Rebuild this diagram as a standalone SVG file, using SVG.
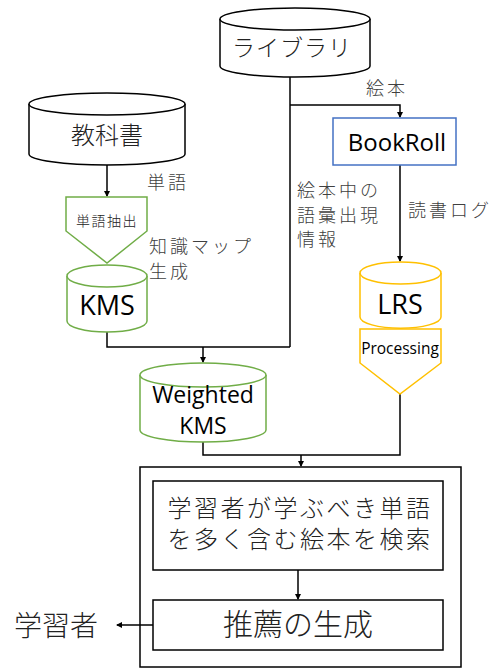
<svg xmlns="http://www.w3.org/2000/svg" width="500" height="668" viewBox="0 0 500 668">
<style>
.ln{fill:none;stroke:#000;stroke-width:1.5}
.cyl{fill:#fff;stroke:#000;stroke-width:1.5}
.g{fill:#fff;stroke:#70AD47;stroke-width:1.5}
.y{fill:#fff;stroke:#FFC000;stroke-width:1.5}
.b{fill:#fff;stroke:#4472C4;stroke-width:1.5}
.jp{font-family:"Noto Sans CJK JP","Noto Sans",sans-serif;fill:#222;font-weight:300}
.lb{font-family:"Noto Sans CJK JP","Noto Sans",sans-serif;fill:#404040;font-size:18px;font-weight:300;letter-spacing:3px}
.en{font-family:"Open Sans","Noto Sans",sans-serif;fill:#000}
</style>
<defs>
<marker id="ar" markerWidth="6" markerHeight="6" refX="5" refY="3" orient="auto" markerUnits="userSpaceOnUse">
<path d="M0,0 L6,3 L0,6 z" fill="#000"/>
</marker>
</defs>
<g id="connectors">
<path class="ln" d="M290,77 V347"/>
<path class="ln" d="M290,105 H400 V117" marker-end="url(#ar)"/>
<path class="ln" d="M400,165 V261" marker-end="url(#ar)"/>
<path class="ln" d="M107,165 V196" marker-end="url(#ar)"/>
<path class="ln" d="M107,332 V347 H290"/>
<path class="ln" d="M203,347 V362" marker-end="url(#ar)"/>
<path class="ln" d="M203,442 V455 H400 V394"/>
<path class="ln" d="M301,455 V466" marker-end="url(#ar)"/>
<path class="ln" d="M298,570 V599" marker-end="url(#ar)"/>
<path class="ln" d="M153,625 H117" marker-end="url(#ar)"/>
</g>
<g id="library">
<path class="cyl" d="M220,19 V66 A75,11 0 0 0 370,66 V19"/>
<ellipse class="cyl" cx="295" cy="19" rx="75" ry="11"/>
<text class="jp" x="292" y="56" font-size="23" letter-spacing="1" text-anchor="middle">ライブラリ</text>
</g>
<g id="textbook">
<path class="cyl" d="M29,104 V154 A78,11 0 0 0 185,154 V104"/>
<ellipse class="cyl" cx="107" cy="104" rx="78" ry="11"/>
<text class="jp" x="107" y="144" font-size="24" text-anchor="middle">教科書</text>
</g>
<g id="extract">
<path class="g" d="M66,197 H147 V231 L107,263 L66,231 Z"/>
<text class="jp" x="107" y="226" font-size="14" letter-spacing="1.5" text-anchor="middle" fill="#404040">単語抽出</text>
</g>
<g id="kms">
<path class="g" d="M67,276 V321 A40,11 0 0 0 147,321 V276"/>
<ellipse class="g" cx="107" cy="276" rx="40" ry="11"/>
<text class="en" x="107" y="315" font-size="27" text-anchor="middle">KMS</text>
</g>
<g id="weighted">
<path class="g" d="M140,375 V430 A63,12 0 0 0 266,430 V375"/>
<ellipse class="g" cx="203" cy="375" rx="63" ry="12"/>
<text class="en" x="203" y="403" font-size="23" text-anchor="middle">Weighted</text>
<text class="en" x="203" y="434" font-size="23" text-anchor="middle">KMS</text>
</g>
<g id="bookroll">
<rect class="b" x="333" y="118" width="123" height="47"/>
<text class="en" x="397" y="151" font-size="24" text-anchor="middle">BookRoll</text>
</g>
<g id="lrs">
<path class="y" d="M360,273 V317 A40,11 0 0 0 441,317 V273"/>
<ellipse class="y" cx="400.5" cy="273" rx="40.5" ry="11"/>
<text class="en" x="400" y="314" font-size="27" text-anchor="middle">LRS</text>
</g>
<g id="processing">
<path class="y" d="M360,329 H441 V363 L400,394 L360,363 Z"/>
<text class="en" x="400" y="354" font-size="15.5" text-anchor="middle">Processing</text>
</g>
<g id="system">
<rect class="ln" x="140" y="467" width="321" height="200"/>
</g>
<g id="search">
<rect class="ln" x="153" y="481" width="290" height="89"/>
<text class="jp" font-size="24" letter-spacing="2.5" text-anchor="middle"><tspan x="300" y="517">学習者が学ぶべき単語</tspan><tspan x="300" y="548">を多く含む絵本を検索</tspan></text>
</g>
<g id="recommend">
<rect class="ln" x="153" y="600" width="290" height="50"/>
<text class="jp" x="298" y="635" font-size="30" text-anchor="middle">推薦の生成</text>
</g>
<g id="learner">
<text class="jp" x="56" y="636" font-size="28" text-anchor="middle">学習者</text>
</g>
<g id="labels">
<text class="lb" x="147" y="189">単語</text>
<text class="lb" x="366" y="95">絵本</text>
<text class="lb" x="149" y="253">知識マップ</text>
<text class="lb" x="149" y="278">生成</text>
<text class="lb" x="297" y="197">絵本中の</text>
<text class="lb" x="297" y="222">語彙出現</text>
<text class="lb" x="297" y="246">情報</text>
<text class="lb" x="408" y="217">読書ログ</text>
</g>
</svg>
